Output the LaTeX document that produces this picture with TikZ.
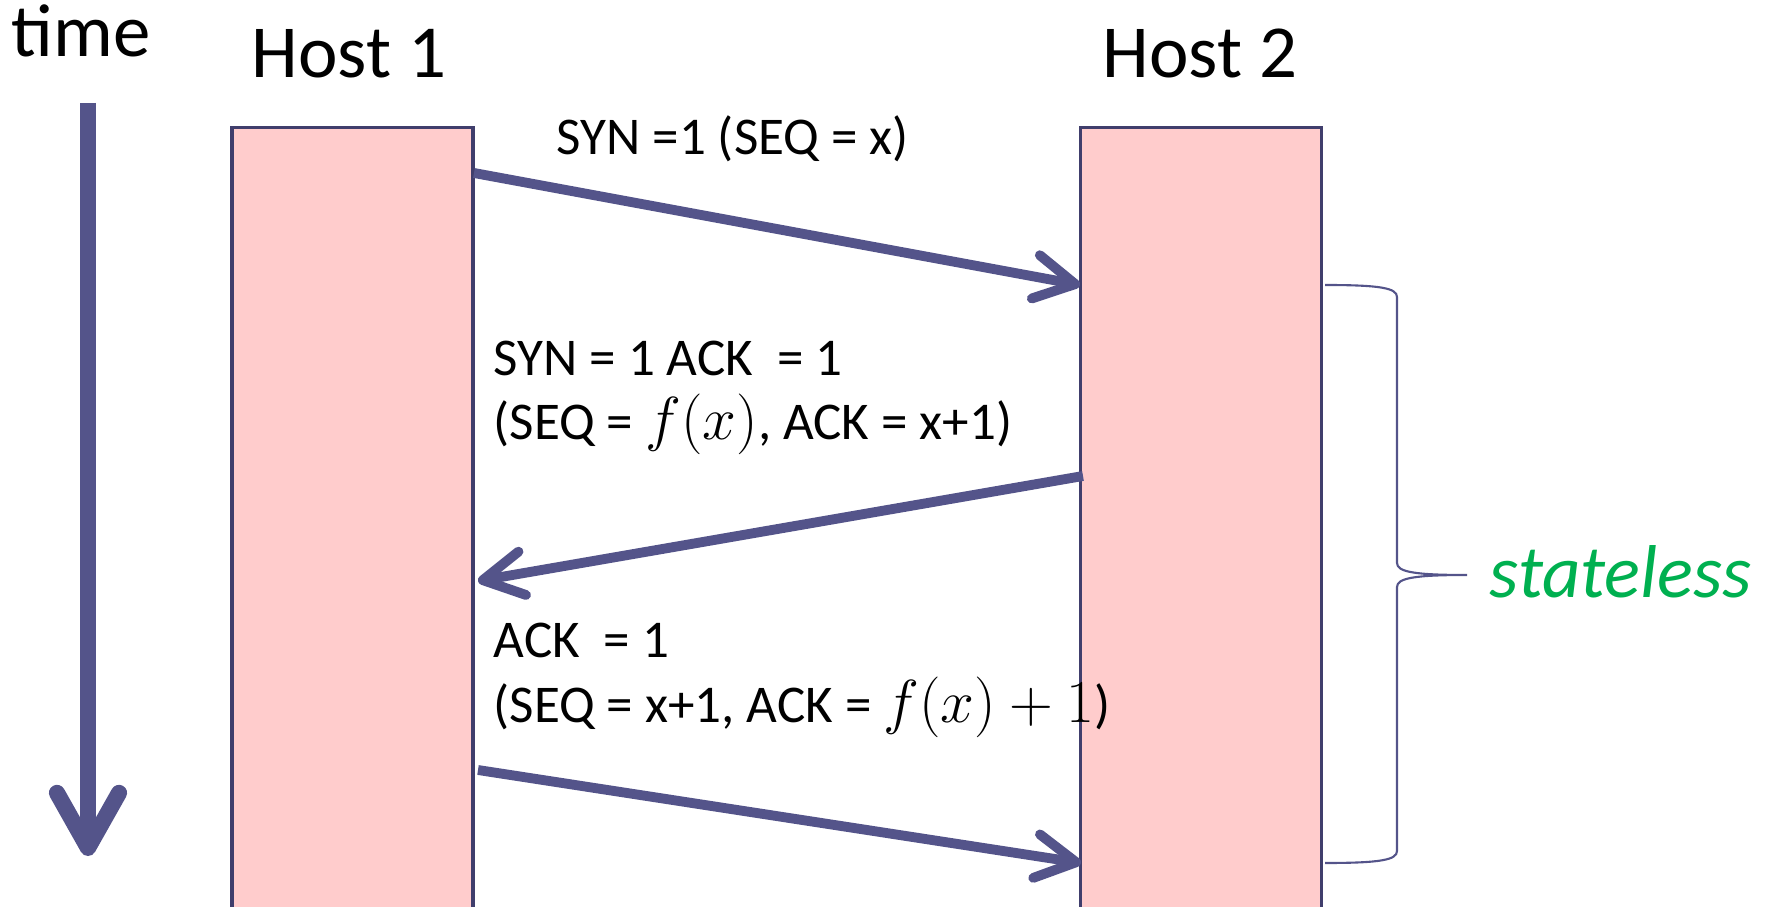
\documentclass[tikz,border=0pt]{standalone}
\usepackage{fontspec}
\setmainfont{Carlito}
\usetikzlibrary{arrows.meta,calc,positioning}
\definecolor{msgblue}  {RGB}{84, 84,138}
\definecolor{hostedge} {RGB}{64, 62,108}
\definecolor{hostfill} {RGB}{255,204,204}
\definecolor{stategreen}{RGB}{0,176, 80}
\newcommand{\mathbig}[1]{{\fontsize{17}{18}\selectfont$#1$}}
\tikzset{
  hostbox/.style={draw=hostedge,line width=0.9pt,fill=hostfill,anchor=north,
                  minimum width=2.41cm,minimum height=8.2cm,inner sep=0pt},
  biglabel/.style={font=\fontsize{21.3}{24}\selectfont,anchor=base,inner sep=0pt},
  msglabel/.style={font=\fontsize{15.1}{18}\selectfont,anchor=base west,inner sep=0pt},
  msgarrow/.style={msgblue,line width=2.8pt,-{Straight Barb[length=0.4cm,width=0.44cm,round]}},
  timearrow/.style={msgblue,line width=4.6pt,-{Straight Barb[length=0.55cm,width=0.62cm,round]}},
  bracepath/.style={msgblue,line width=0.6pt},
}

\begin{document}
\begin{tikzpicture}
\useasboundingbox (0,0) rectangle (17.69,-9.07);
\clip (0,0) rectangle (17.69,-9.07);
% time axis
\node[biglabel] (time) at (0.81,-0.57) {time};
\coordinate (t0) at (0.88,-1.03);
\coordinate (t1) at (0.88,-8.56);
\draw[timearrow] (t0) -- (t1);
% hosts
\node[hostbox] (h1) at (3.525,-1.26) {};
\node[hostbox] (h2) at (12.01,-1.26) {};
\node[biglabel] (h1lab) at (3.49,-0.78) {Host 1};
\node[biglabel] (h2lab) at (12.00,-0.78) {Host 2};
% messages
\coordinate (s1) at (4.74,-1.73);
\coordinate (r1) at (10.80,-2.85);
\coordinate (s2) at (10.83,-4.76);
\coordinate (r2) at (4.78,-5.81);
\coordinate (s3) at (4.78,-7.70);
\coordinate (r3) at (10.81,-8.63);
\draw[msgarrow] (s1) -- (r1);
\draw[msgarrow] (s2) -- (r2);
\draw[msgarrow] (s3) -- (r3);
\node[msglabel] (syn)  at (5.56,-1.55) {SYN =1 (SEQ = x)};
\node[msglabel] (sa1)  at (4.93,-3.76) {SYN = 1 ACK\ \ = 1};
\node[msglabel] (sa2)  at (4.93,-4.40) {(SEQ = \mathbig{f(x)}, ACK = x+1)};
\node[msglabel] (ack1) at (4.93,-6.58) {ACK\ \ = 1};
\node[msglabel] (ack2) at (4.93,-7.22) {(SEQ = x+1, ACK = \mathbig{f(x)+1})};
% brace
\coordinate (bt) at (13.25,-2.85);
\coordinate (bb) at (13.25,-8.63);
\coordinate (tip) at (14.67,-5.75);
\draw[bracepath] (bt) .. controls (13.80,-2.85) and (13.97,-2.88) .. (13.97,-2.97)
  -- (13.97,-5.63) .. controls (13.97,-5.72) and (14.15,-5.75) .. (tip)
  .. controls (14.15,-5.75) and (13.97,-5.78) .. (13.97,-5.87)
  -- (13.97,-8.51) .. controls (13.97,-8.60) and (13.80,-8.63) .. (bb);
\node[biglabel,anchor=base west,text=stategreen,font=\fontsize{21.3}{24}\selectfont\itshape]
  (state) at (14.89,-5.98) {stateless};
\end{tikzpicture}
\end{document}
